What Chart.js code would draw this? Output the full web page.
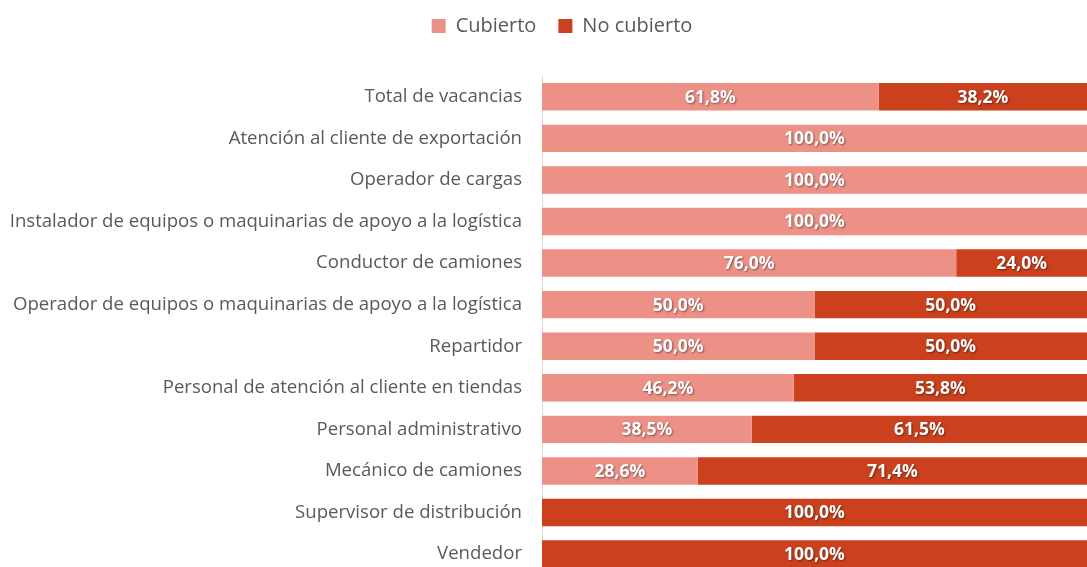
<!DOCTYPE html>
<html>
<head>
<meta charset="utf-8">
<script src="https://cdn.jsdelivr.net/npm/chart.js@4/dist/chart.umd.min.js"></script>
<style>
  html, body { margin: 0; padding: 0; background: #fff; overflow: hidden; }
  #wrap { position: relative; width: 1087px; height: 606px; }
</style>
</head>
<body>
<div id="wrap"><canvas id="chart"></canvas></div>
<script>
"use strict";

const categories = [
  "Total de vacancias",
  "Atención al cliente de exportación",
  "Operador de cargas",
  "Instalador de equipos o maquinarias de apoyo a la logística",
  "Conductor de camiones",
  "Operador de equipos o maquinarias de apoyo a la logística",
  "Repartidor",
  "Personal de atención al cliente en tiendas",
  "Personal administrativo",
  "Mecánico de camiones",
  "Supervisor de distribución",
  "Vendedor"
];
const cubierto = [61.8, 100, 100, 100, 76, 50, 50, 46.2, 38.5, 28.6, 0, 0];
const noCubierto = [38.2, 0, 0, 0, 24, 50, 50, 53.8, 61.5, 71.4, 100, 100];

const colorCubierto = "#ED9187";
const colorNoCubierto = "#CB401D";
const textFont = "'Open Sans', 'Noto Sans', sans-serif";

/**
 * Draws the white percentage labels in the middle of each segment
 */
const barLabels = {
  id: "barLabels",
  afterDatasetsDraw(chart) {
    const ctx = chart.ctx;
    ctx.save();
    ctx.font = "bold 17.5px " + textFont;
    ctx.textAlign = "center";
    ctx.textBaseline = "middle";
    ctx.fillStyle = "#ffffff";
    ctx.shadowColor = "rgba(0,0,0,0.45)";
    ctx.shadowBlur = 2;
    ctx.shadowOffsetX = 1;
    ctx.shadowOffsetY = 1;
    chart.data.datasets.forEach((ds, i) => {
      chart.getDatasetMeta(i).data.forEach((bar, j) => {
        const v = ds.data[j];
        if (!v) return;
        const x = (bar.x + bar.base) / 2;
        ctx.fillText(v.toFixed(1).replace(".", ",") + "%", x, bar.y + 1);
      });
    });
    ctx.restore();
  }
};

/**
 * Adds space under the legend and nudges it to the right like the original
 */
const legendTweak = {
  id: "legendTweak",
  beforeInit(chart) {
    const fit = chart.legend.fit;
    chart.legend.fit = function () {
      fit.bind(chart.legend)();
      this.height += 30;
    };
  },
  afterLayout(chart) {
    chart.legend.left += 20;
    chart.legend.right += 20;
  }
};

function buildChart() {
  return new Chart(document.getElementById("chart"), {
    type: "bar",
    data: {
      labels: categories,
      datasets: [
        { label: "Cubierto", data: cubierto, backgroundColor: colorCubierto },
        { label: "No cubierto", data: noCubierto, backgroundColor: colorNoCubierto }
      ]
    },
    options: {
      indexAxis: "y",
      responsive: true,
      maintainAspectRatio: false,
      animation: false,
      layout: { padding: { top: -6, right: 0, left: -3, bottom: 0 } },
      datasets: { bar: { categoryPercentage: 1, barPercentage: 0.66 } },
      plugins: {
        tooltip: { enabled: false },
        legend: {
          position: "top",
          labels: {
            boxWidth: 14,
            boxHeight: 14,
            padding: 22,
            color: "#595959",
            font: { family: textFont, size: 20 }
          }
        }
      },
      scales: {
        x: {
          stacked: true,
          min: 0,
          max: 100,
          display: false
        },
        y: {
          stacked: true,
          grid: { display: false, drawTicks: false },
          border: { color: "#d9d9d9", width: 1 },
          ticks: {
            padding: 20,
            color: "#595959",
            font: { family: textFont, size: 18.6 }
          }
        }
      }
    },
    plugins: [barLabels, legendTweak]
  });
}

buildChart();
</script>
</body>
</html>
